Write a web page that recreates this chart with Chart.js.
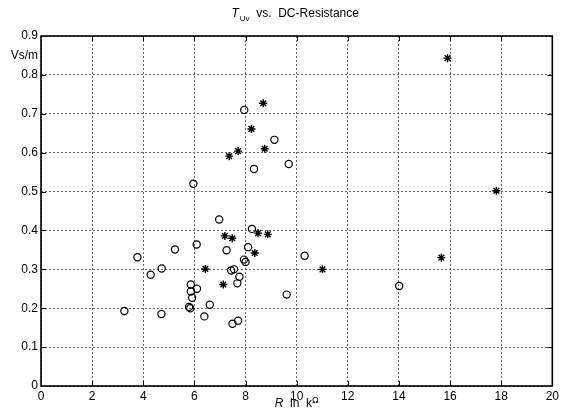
<!DOCTYPE html>
<html>
<head>
<meta charset="utf-8">
<script src="https://cdn.jsdelivr.net/npm/chart.js@4"></script>
<style>
  html, body { margin: 0; padding: 0; background: #fff; }
  #wrap { width: 562px; height: 412px; }
</style>
</head>
<body>
<div id="wrap"><canvas id="tuvChart" width="562" height="412"></canvas></div>
<script>
// T_Uv (Vs/m) against DC resistance R (kOhm), two groups of coils
const circleR = [3.26, 3.77, 4.29, 4.71, 4.72, 5.24, 5.79, 5.84, 5.86, 5.86, 5.91, 5.96,
                 6.10, 6.09, 6.39, 6.60, 6.97, 7.26, 7.44, 7.49, 7.55, 7.68, 7.71, 7.76,
                 7.94, 7.95, 8.00, 8.10, 8.25, 8.33, 9.13, 9.61, 9.69, 10.31, 14.01];
const circleT = [0.193, 0.331, 0.286, 0.185, 0.302, 0.351, 0.203, 0.200, 0.243, 0.261, 0.227, 0.520,
                 0.250, 0.364, 0.179, 0.209, 0.428, 0.349, 0.297, 0.160, 0.300, 0.264, 0.168, 0.281,
                 0.325, 0.710, 0.319, 0.357, 0.404, 0.558, 0.633, 0.235, 0.571, 0.335, 0.257];

const starR = [6.43, 7.13, 7.19, 7.36, 7.48, 7.71, 8.23, 8.36, 8.49, 8.69, 8.75, 8.87,
               11.01, 15.66, 15.90, 17.81];
const starT = [0.301, 0.261, 0.386, 0.591, 0.380, 0.604, 0.661, 0.342, 0.393, 0.727, 0.610, 0.390,
               0.300, 0.330, 0.843, 0.502];

const xTicks = [0, 2, 4, 6, 8, 10, 12, 14, 16, 18, 20];
const yTicks = [0, 0.1, 0.2, 0.3, 0.4, 0.5, 0.6, 0.7, 0.8, 0.9];
const yUnit = "Vs/m";

const FONT = "'Liberation Sans', Arial, sans-serif";

function toPoints(xs, ys) {
  return xs.map((x, i) => ({ x: x, y: ys[i] }));
}

// frame, inward ticks, title and axis labels in the MATLAB look
const matlabLook = {
  id: "matlabLook",
  afterDraw(chart) {
    const ctx = chart.ctx;
    const a = chart.chartArea;
    const xs = chart.scales.x, ys = chart.scales.y;
    ctx.save();

    ctx.strokeStyle = "#000";
    ctx.lineWidth = 1;
    ctx.setLineDash([]);
    ctx.beginPath();
    xTicks.slice(1, -1).forEach(v => {
      const px = Math.round(xs.getPixelForValue(v)) + 0.5;
      ctx.moveTo(px, a.bottom); ctx.lineTo(px, a.bottom - 5);
      ctx.moveTo(px, a.top); ctx.lineTo(px, a.top + 5);
    });
    yTicks.slice(1, -1).forEach(v => {
      const py = Math.round(ys.getPixelForValue(v)) + 0.5;
      ctx.moveTo(a.left, py); ctx.lineTo(a.left + 5, py);
      ctx.moveTo(a.right, py); ctx.lineTo(a.right - 5, py);
    });
    ctx.stroke();

    ctx.lineWidth = 1.6;
    ctx.strokeRect(a.left, a.top, a.right - a.left, a.bottom - a.top);

    ctx.fillStyle = "#000";
    ctx.textBaseline = "alphabetic";

    // y unit between 0.9 and 0.8
    ctx.font = "12px " + FONT;
    ctx.textAlign = "right";
    ctx.fillText(yUnit, a.left - 3, ys.getPixelForValue(0.85) + 4);

    // title: T_Uv  vs.  DC-Resistance
    ctx.textAlign = "left";
    const cx = (a.left + a.right) / 2;
    const t1 = "T", t2 = "Uv", t3 = "  vs.  DC-Resistance";
    ctx.font = "italic 12px " + FONT; const w1 = ctx.measureText(t1).width;
    ctx.font = "8px " + FONT; const w2 = ctx.measureText(t2).width;
    ctx.font = "12px " + FONT; const w3 = ctx.measureText(t3).width;
    let x0 = cx - (w1 + w2 + w3) / 2 - 2;
    const ty = 17;
    ctx.font = "italic 12px " + FONT; ctx.fillText(t1, x0, ty); x0 += w1 + 1;
    ctx.font = "8px " + FONT; ctx.fillText(t2, x0, ty + 4); x0 += w2;
    ctx.font = "12px " + FONT; ctx.fillText(t3, x0, ty);

    // x label: R in kOhm
    const l1 = "R", l2 = "  in  k", l3 = "\u03A9";
    ctx.font = "italic 12px " + FONT; const v1 = ctx.measureText(l1).width;
    ctx.font = "12px " + FONT; const v2 = ctx.measureText(l2).width;
    ctx.font = "9px " + FONT; const v3 = ctx.measureText(l3).width;
    let lx = cx - (v1 + v2 + v3) / 2;
    const ly = 407;
    ctx.font = "italic 12px " + FONT; ctx.fillText(l1, lx, ly); lx += v1;
    ctx.font = "12px " + FONT; ctx.fillText(l2, lx, ly); lx += v2;
    ctx.font = "9px " + FONT; ctx.fillText(l3, lx, ly - 4);

    ctx.restore();
  }
};

const ctx = document.getElementById("tuvChart").getContext("2d");
const chart = new Chart(ctx, {
  type: "scatter",
  data: {
    datasets: [{
      label: "o",
      data: toPoints(circleR, circleT),
      pointStyle: "circle",
      pointRadius: 3.6,
      pointBackgroundColor: "rgba(255,255,255,0)",
      pointBorderColor: "#000",
      pointBorderWidth: 1.2
    }, {
      label: "*",
      data: toPoints(starR, starT),
      pointStyle: "star",
      pointRadius: 4,
      pointBorderColor: "#000",
      pointBorderWidth: 1.4
    }]
  },
  options: {
    responsive: false,
    animation: false,
    devicePixelRatio: 1,
    layout: { padding: { top: 36, right: 5, left: 0, bottom: 0 } },
    plugins: {
      legend: { display: false },
      title: { display: false },
      tooltip: { enabled: false }
    },
    scales: {
      x: {
        type: "linear",
        min: 0, max: 20,
        afterFit: s => { s.height = 26; },
        afterBuildTicks: s => { s.ticks = xTicks.map(v => ({ value: v })); },
        border: { display: false, dash: [2, 2] },
        grid: { color: "#6a6a6a", lineWidth: 1, drawTicks: false },
        ticks: { color: "#000", padding: 3, font: { family: FONT, size: 12 }, maxRotation: 0 }
      },
      y: {
        type: "linear",
        min: 0, max: 0.9,
        afterFit: s => { s.width = 41; },
        afterBuildTicks: s => { s.ticks = yTicks.map(v => ({ value: v })); },
        border: { display: false, dash: [2, 2] },
        grid: { color: "#6a6a6a", lineWidth: 1, drawTicks: false },
        ticks: {
          color: "#000", padding: 3, font: { family: FONT, size: 12 },
          callback: v => v === 0 ? "0" : v.toFixed(1)
        }
      }
    }
  },
  plugins: [matlabLook]
});
</script>
</body>
</html>
